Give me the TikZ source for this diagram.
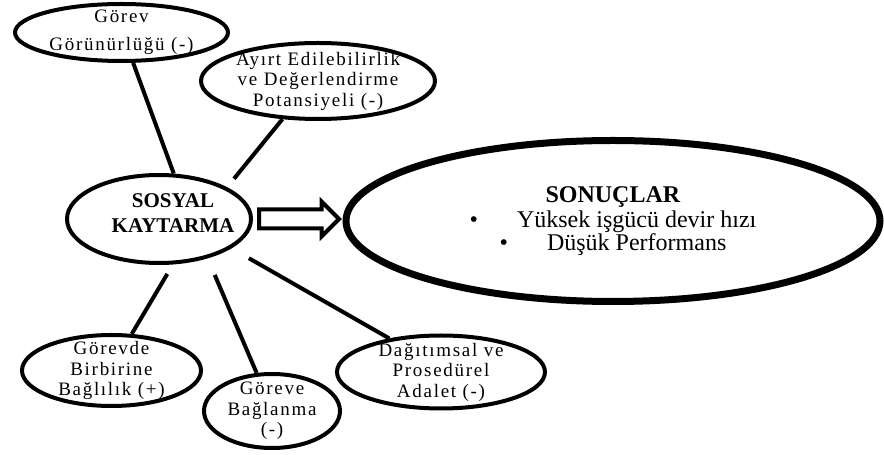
\documentclass[tikz,border=0pt]{standalone}
\usepackage{fontspec}
\setmainfont{Liberation Serif}
\newfontfamily\spacedfont[LetterSpace=9]{Liberation Serif}
\usetikzlibrary{positioning, shapes.geometric, shapes.arrows}

\begin{document}
\begin{tikzpicture}[x=1pt, y=1pt,
    bubble/.style={ellipse, draw, line width=4pt, inner sep=-6pt, align=center, font=\spacedfont\fontsize{19}{20.5}\selectfont},
    kaytext/.style={align=center, font=\bfseries\fontsize{21}{25}\selectfont},
    spoke/.style={line width=4pt},
    bigarrow/.style={single arrow, draw, line width=4pt, inner xsep=0pt, inner ysep=7.5pt, minimum height=80pt, minimum width=31pt, single arrow head extend=8pt}]
    \useasboundingbox (0,0) rectangle (884,455);

    % Nodes
    \node[bubble, minimum width=213pt, minimum height=57pt] (gorunur) at (121.5,422.5) {Görev\\[7.5pt]Görünürlüğü (-)};
    \node[bubble, minimum width=234pt, minimum height=76pt] (ayirt) at (318,374) {Ayırt Edilebilirlik\\ve Değerlendirme\\Potansiyeli (-)};
    \node[ellipse, draw, line width=4pt, minimum width=184pt, minimum height=88pt,
        label={[kaytext, xshift=14pt, yshift=6pt]center:SOSYAL\\KAYTARMA}] (sosyal) at (159,236) {};
    \node[ellipse, draw, line width=7pt, minimum width=534pt, minimum height=161pt, inner sep=0pt, align=center,
        font=\fontsize{24}{22}\selectfont] (sonuc) at (613,234)
        {\textbf{SONUÇLAR}\\[3pt]\textbullet\hspace{39pt}Yüksek işgücü devir hızı\\\textbullet\hspace{39pt}Düşük Performans};
    \node[bubble, minimum width=179pt, minimum height=71pt] (birbirine) at (111.5,84.5) {Görevde\\Birbirine\\Bağlılık (+)};
    \node[bubble, minimum width=136pt, minimum height=74pt] (baglanma) at (272,44) {Göreve\\Bağlanma\\(-)};
    \node[bubble, minimum width=208pt, minimum height=73pt] (adalet) at (441,83) {Dağıtımsal ve\\Prosedürel\\Adalet (-)};
    \node[bigarrow, right=4pt of sosyal] (ok) {};

    % Spokes
    \draw[spoke] (sosyal.72) -- (gorunur.291);
    \draw[spoke, shorten <=11pt] (sosyal.25) -- (ayirt.227);
    \draw[spoke, shorten <=11pt] (sosyal.287) -- (birbirine.61);
    \draw[spoke, shorten <=18pt] (sosyal.321) -- (baglanma.112);
    \draw[spoke, shorten <=20pt] (sosyal.338) -- (adalet.147);

\end{tikzpicture}
\end{document}
